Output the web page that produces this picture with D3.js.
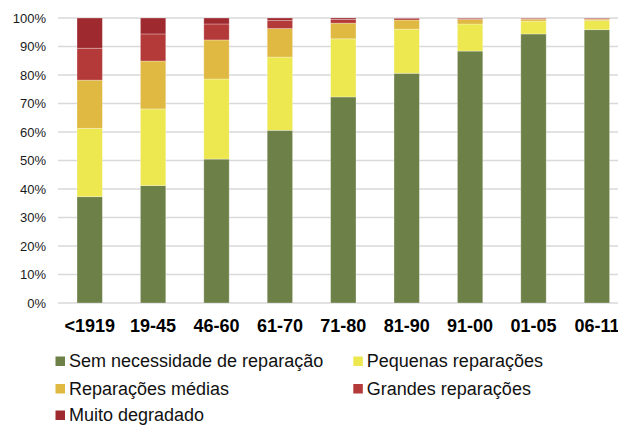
<!DOCTYPE html>
<html>
<head>
<meta charset="utf-8">
<script src="https://cdn.jsdelivr.net/npm/d3@7/dist/d3.min.js"></script>
<style>
  html, body { margin: 0; padding: 0; background: #fff; }
  svg { display: block; font-family: "Liberation Sans", Arial, sans-serif; }
</style>
</head>
<body>
<svg id="chart" width="618" height="425"></svg>
<script>
// Construction periods
const periods = ["<1919", "19-45", "46-60", "61-70", "71-80", "81-90", "91-00", "01-05", "06-11"];

// State of conservation shares (%) per period
const semNecessidade = [37.3, 41.2, 50.5, 60.6, 72.3, 80.6, 88.4, 94.4, 95.9];
const pequenas       = [24.0, 26.9, 28.1, 25.7, 20.4, 15.5,  9.5,  4.5,  3.2];
const medias         = [16.9, 16.8, 13.7, 10.0,  5.5,  3.2,  1.6,  0.7,  0.5];
const grandes        = [11.2,  9.5,  5.6,  2.8,  1.3,  0.5,  0.4,  0.3,  0.3];
const degradado      = [10.6,  5.6,  2.1,  0.9,  0.5,  0.2,  0.1,  0.1,  0.1];

const seriesNames = ["Sem necessidade de reparação", "Pequenas reparações",
                     "Reparações médias", "Grandes reparações", "Muito degradado"];
const seriesColors = ["#6d8048", "#ede850", "#e0b942", "#b43a3a", "#9e2a30"];
const yTicks = [0, 10, 20, 30, 40, 50, 60, 70, 80, 90, 100];

const seriesValues = [semNecessidade, pequenas, medias, grandes, degradado];
const keys = seriesNames;
const table = periods.map((p, i) => {
  const row = { period: p };
  keys.forEach((k, j) => { row[k] = seriesValues[j][i]; });
  return row;
});

const FONT = "'Liberation Sans', Arial, sans-serif";
const svg = d3.select("#chart");

const x = d3.scaleBand().domain(periods).range([58, 628.6]).paddingInner(0.6).paddingOuter(0.3);
const y = d3.scaleLinear().domain([0, 100]).range([303, 18]);

// Gridlines
svg.append("g")
  .selectAll("line")
  .data(yTicks)
  .join("line")
  .attr("x1", 58).attr("x2", 640)
  .attr("y1", d => y(d)).attr("y2", d => y(d))
  .attr("stroke", "#d9d9d9")
  .attr("stroke-width", 1.3);

// Y axis labels
const yAxis = d3.axisLeft(y).tickValues(yTicks).tickFormat(d => d + "%").tickSize(0).tickPadding(0);
const yg = svg.append("g").attr("transform", "translate(46,0)").call(yAxis);
yg.select(".domain").remove();
yg.selectAll("text")
  .attr("font-family", FONT)
  .attr("font-size", 13)
  .attr("fill", "#1a1a1a");

// Stacked bars
const stacked = d3.stack().keys(keys)(table);

svg.append("g")
  .selectAll("g")
  .data(stacked)
  .join("g")
  .attr("fill", (d, i) => seriesColors[i])
  .selectAll("rect")
  .data(d => d)
  .join("rect")
  .attr("x", d => x(d.data.period))
  .attr("width", x.bandwidth())
  .attr("y", d => y(d[1]))
  .attr("height", d => y(d[0]) - y(d[1]))
  .attr("stroke", "rgba(255,255,255,0.35)")
  .attr("stroke-width", 0.8);

// X axis labels
const xAxis = d3.axisBottom(x).tickSize(0).tickPadding(0);
const xg = svg.append("g").call(xAxis);
xg.select(".domain").remove();
xg.selectAll("text")
  .attr("y", 332)
  .attr("dy", 0)
  .attr("font-family", FONT)
  .attr("font-size", 18)
  .attr("font-weight", "bold")
  .attr("fill", "#000");

// Legend
const legendPos = [
  [55.5, 367], [353.3, 367],
  [55.5, 394.5], [353.3, 394.5],
  [55.5, 421]
];
const legend = svg.append("g")
  .selectAll("g")
  .data(seriesNames)
  .join("g")
  .attr("transform", (d, i) => `translate(${legendPos[i][0]},${legendPos[i][1]})`);
legend.append("rect")
  .attr("x", 0).attr("y", -10.5)
  .attr("width", 9.5).attr("height", 9.5)
  .attr("fill", (d, i) => seriesColors[i]);
legend.append("text")
  .attr("x", 13.5).attr("y", 0)
  .attr("font-family", FONT)
  .attr("font-size", 18)
  .attr("fill", "#111")
  .text(d => d);
</script>
</body>
</html>
